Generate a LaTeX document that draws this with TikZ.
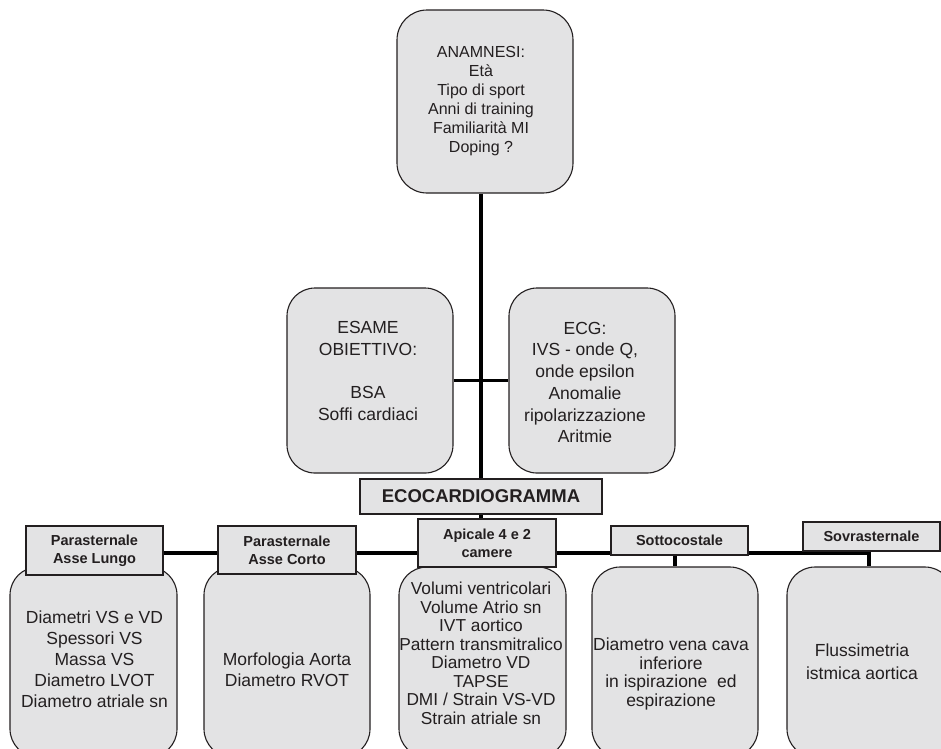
\documentclass[tikz,border=0pt]{standalone}
\usepackage{fontspec}
\setmainfont{Liberation Sans}
\usetikzlibrary{backgrounds}
\definecolor{ink}{HTML}{231F20}
\definecolor{boxfill}{HTML}{E3E3E4}
\tikzset{
  rbox/.style={draw=ink, line width=1.1pt, fill=boxfill, rounded corners=28pt, inner sep=0pt},
  hbox/.style={draw=ink, line width=1.3pt, fill=boxfill, inner sep=0pt, align=center,
               font=\bfseries\fontsize{14.5}{18}\selectfont, text=ink},
  txt/.style={align=center, text=ink, inner sep=0pt},
  conn/.style={line width=3.3pt, draw=black},
}
\begin{document}
\begin{tikzpicture}[x=1pt,y=-1pt]
\useasboundingbox (0,0) rectangle (941,748);
\clip (0,0) rectangle (941,748);
% top box
\node[rbox, rounded corners=30pt, minimum width=176pt, minimum height=183pt] (anam) at (485,101.5) {};
\node[txt, font=\fontsize{16}{19}\selectfont] (anamt) at (481,101.5)
  {ANAMNESI:\\Età\\Tipo di sport\\Anni di training\\Familiarità MI\\Doping ?};
% middle boxes
\node[rbox, minimum width=166pt, minimum height=185pt] (esame) at (370,380.5) {};
\node[txt, font=\fontsize{17.5}{21.7}\selectfont] (esamet) at (368,371)
  {ESAME\\OBIETTIVO:\\[21.7pt]BSA\\Soffi cardiaci};
\node[rbox, minimum width=166pt, minimum height=185pt] (ecg) at (592,380.5) {};
\node[txt, font=\fontsize{17.5}{21.7}\selectfont] (ecgt) at (585,382.5)
  {ECG:\\IVS - onde Q,\\onde epsilon\\Anomalie\\ripolarizzazione\\Aritmie};
% ecocardiogramma
\node[hbox, font=\bfseries\fontsize{18.5}{22}\selectfont, minimum width=242pt, minimum height=35pt] (eco) at (481,496.5) {ECOCARDIOGRAMMA};
% bottom boxes
\node[rbox, minimum width=167pt, minimum height=190pt] (b1) at (93.5,662) {};
\node[txt, font=\fontsize{17.5}{21}\selectfont] (b1t) at (94.5,659)
  {Diametri VS e VD\\Spessori VS\\Massa VS\\Diametro LVOT\\Diametro atriale sn};
\node[rbox, minimum width=166pt, minimum height=190pt] (b2) at (287,662) {};
\node[txt, font=\fontsize{17.5}{21}\selectfont] (b2t) at (287,669.5)
  {Morfologia Aorta\\Diametro RVOT};
\node[rbox, minimum width=167pt, minimum height=190pt] (b3) at (482.5,662) {};
\node[txt, font=\fontsize{17.3}{18.5}\selectfont] (b3t) at (481,653.5)
  {Volumi ventricolari\\Volume Atrio sn\\IVT aortico\\Pattern transmitralico\\Diametro VD\\TAPSE\\DMI / Strain VS-VD\\Strain atriale sn};
\node[rbox, minimum width=166pt, minimum height=190pt] (b4) at (675,662) {};
\node[txt, font=\fontsize{17.5}{18.5}\selectfont] (b4t) at (671,674)
  {Diametro vena cava\\inferiore\\in ispirazione~ ed\\espirazione};
\node[rbox, minimum width=166pt, minimum height=190pt] (b5) at (870,662) {};
\node[txt, font=\fontsize{17.5}{23}\selectfont] (b5t) at (862,661.5)
  {Flussimetria\\istmica aortica};
% header boxes
\node[hbox, minimum width=137pt, minimum height=49pt] (h1) at (94.5,550.5) {Parasternale\\Asse Lungo};
\node[hbox, minimum width=138pt, minimum height=48pt] (h2) at (287,550) {Parasternale\\Asse Corto};
\node[hbox, minimum width=138pt, minimum height=48pt] (h3) at (487,543) {Apicale 4 e 2\\camere};
\node[hbox, minimum width=137pt, minimum height=29pt] (h4) at (679.5,540.5) {Sottocostale};
\node[hbox, minimum width=137pt, minimum height=29pt] (h5) at (871.5,536.5) {Sovrasternale};
% connectors
\begin{pgfonlayer}{background}
\draw[conn] (anam.south -| eco.north) -- (eco.north);
\draw[conn] (esame.east) -- (ecg.west);
\draw[conn] (eco.south) -- (eco.south |- h3.north);
\coordinate (sovj) at (869,553);
\draw[conn] (h1.east |- sovj) -- (sovj) -- (sovj |- b5.north);
\draw[conn] (b4.north |- h4.south) -- (b4.north);
\end{pgfonlayer}
\end{tikzpicture}
\end{document}
